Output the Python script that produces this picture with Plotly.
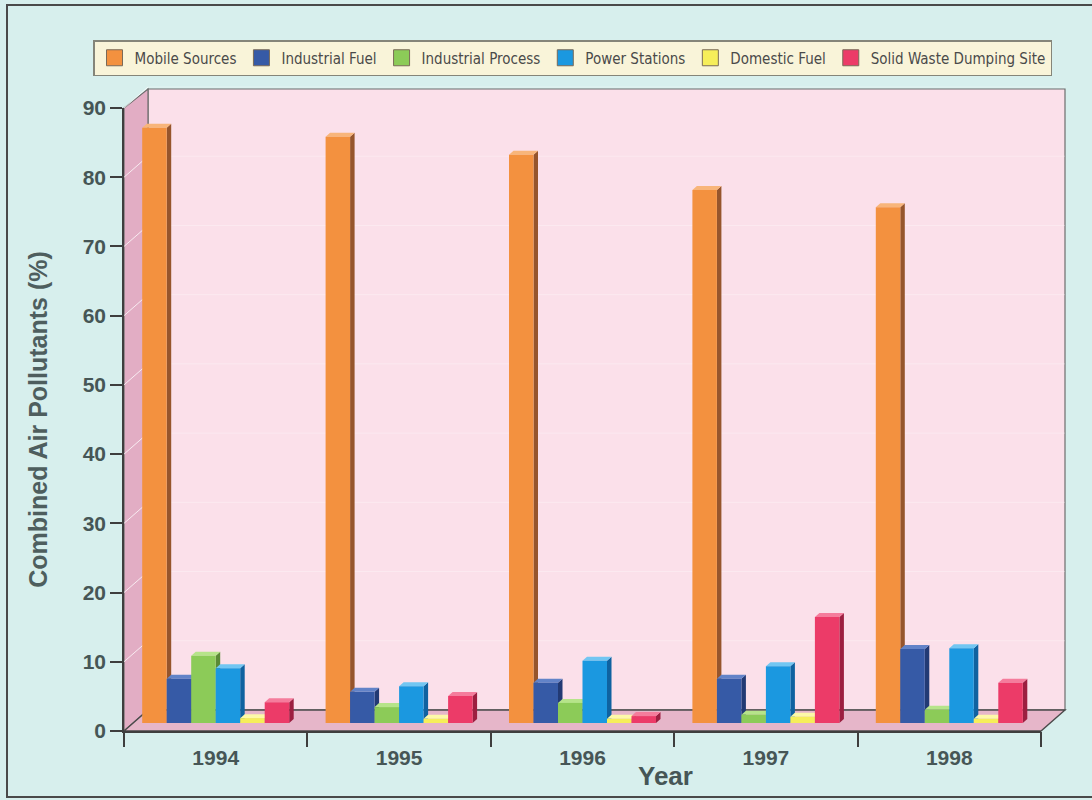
import plotly.graph_objects as go

# ---- data -------------------------------------------------------------
years = ["1994", "1995", "1996", "1997", "1998"]
sources = ["Mobile Sources", "Industrial Fuel", "Industrial Process",
           "Power Stations", "Domestic Fuel", "Solid Waste Dumping Site"]
mobile_sources = [86.0, 84.7, 82.1, 77.0, 74.5]
industrial_fuel = [6.4, 4.5, 5.8, 6.4, 10.7]
industrial_process = [9.7, 2.3, 2.9, 1.2, 1.9]
power_stations = [7.9, 5.3, 9.0, 8.2, 10.8]
domestic_fuel = [0.7, 0.6, 0.6, 0.9, 0.6]
solid_waste = [3.0, 3.9, 1.0, 15.3, 5.8]
y_ticks = [0, 10, 20, 30, 40, 50, 60, 70, 80, 90]

series = [mobile_sources, industrial_fuel, industrial_process,
          power_stations, domestic_fuel, solid_waste]
# front, top face, side face colours per series
front_cols = ["#f3913f", "#365aa6", "#8ccb58", "#1b98e0", "#f6ee5a", "#ec3b68"]
top_cols = ["#f8b57a", "#6283c8", "#b6e48a", "#72c6f2", "#fdf9a8", "#f57c9c"]
side_cols = ["#96552c", "#223a74", "#5a8a36", "#0f62a0", "#b2aa34", "#9c1f40"]

# ---- geometry (pixels of the 1092x800 page) ---------------------------
FW, FH = 1092, 800
L, R, T, B = 124, 1041, 108, 731          # front plotting plane
PW, PH = R - L, B - T
DX, DY = 24, 21                           # depth of back wall
BAR_LIFT = 8                              # bars stand slightly back on the floor
Y_MAX = 90.0
px_per_unit_y = PH / Y_MAX
px_per_unit_x = PW / 5.0

bar_w = 24.5 / px_per_unit_x
face_dx = 4.5 / px_per_unit_x
face_dy = 4.0 / px_per_unit_y
lift = BAR_LIFT / px_per_unit_y


def px(xp):
    return (xp - L) / PW


def py(yp):
    return (B - yp) / PH


fig = go.Figure()

# side and top faces of each bar (drawn beneath the fronts)
for j, vals in enumerate(series):
    sx, sy, tx, ty = [], [], [], []
    for i, v in enumerate(vals):
        xl = i + (j - 3) * bar_w
        xr = xl + bar_w
        sx += [xr, xr + face_dx, xr + face_dx, xr, xr, None]
        sy += [0, face_dy, v + face_dy, v, 0, None]
        tx += [xl, xl + face_dx, xr + face_dx, xr, xl, None]
        ty += [v, v + face_dy, v + face_dy, v, v, None]
    fig.add_trace(go.Scatter(x=sx, y=sy, mode="lines", fill="toself",
                             fillcolor=side_cols[j], line=dict(width=0),
                             xaxis="x", yaxis="y2", showlegend=False,
                             hoverinfo="skip"))
    fig.add_trace(go.Scatter(x=tx, y=ty, mode="lines", fill="toself",
                             fillcolor=top_cols[j], line=dict(width=0),
                             xaxis="x", yaxis="y2", showlegend=False,
                             hoverinfo="skip"))

# bar fronts
for j, vals in enumerate(series):
    fig.add_trace(go.Bar(
        x=[i + (j - 2.5) * bar_w for i in range(len(years))],
        y=vals, width=bar_w, name=sources[j],
        marker=dict(color=front_cols[j], line=dict(width=0)),
        xaxis="x", yaxis="y3", showlegend=False,
        hovertemplate=sources[j] + " %{customdata}: %{y}%<extra></extra>",
        customdata=years,
    ))

# legend entries
for j, name in enumerate(sources):
    fig.add_trace(go.Scatter(
        x=[None], y=[None], mode="markers", name=name,
        marker=dict(symbol="square", size=17, color=front_cols[j],
                    line=dict(color="#7a6a58", width=1)),
        xaxis="x", yaxis="y",
    ))

# ---- walls, floor and frame ------------------------------------------
shapes = []
wall_line = dict(color="#6d6d6d", width=1.2)
# outer frame
shapes.append(dict(type="rect", xref="paper", yref="paper", layer="below",
                   x0=px(7), x1=px(1096), y0=py(797), y1=py(5),
                   line=dict(color="#4a4a4a", width=2), fillcolor="rgba(0,0,0,0)"))
# back wall
shapes.append(dict(type="rect", xref="paper", yref="paper", layer="below",
                   x0=px(L + DX), x1=px(R + DX), y0=py(B - DY), y1=py(T - DY + 2),
                   line=wall_line, fillcolor="#fbe0ea"))
# left side wall
shapes.append(dict(type="path", xref="paper", yref="paper", layer="below",
                   path=(f"M {px(L)} {py(B)} L {px(L)} {py(T)} "
                         f"L {px(L + DX)} {py(T - DY + 2)} L {px(L + DX)} {py(B - DY)} Z"),
                   line=wall_line, fillcolor="#e2adc4"))
# floor
shapes.append(dict(type="path", xref="paper", yref="paper", layer="below",
                   path=(f"M {px(L)} {py(B)} L {px(R)} {py(B)} "
                         f"L {px(R + DX)} {py(B - DY)} L {px(L + DX)} {py(B - DY)} Z"),
                   line=dict(color="#4a4a4a", width=1.4), fillcolor="#e6b6c9"))
# faint grid on back wall and side wall
for v in y_ticks[1:]:
    yb = v / Y_MAX + DY / PH
    shapes.append(dict(type="line", xref="paper", yref="paper", layer="below",
                       x0=px(L + DX), x1=px(R + DX), y0=yb, y1=yb,
                       line=dict(color="rgba(255,255,255,0.3)", width=1)))
    shapes.append(dict(type="line", xref="paper", yref="paper", layer="below",
                       x0=px(L), x1=px(L + DX), y0=v / Y_MAX, y1=yb,
                       line=dict(color="rgba(255,255,255,0.75)", width=1)))

tick_font = dict(family="Liberation Sans, Arial, sans-serif", size=21,
                 color="#465656", weight="bold")

fig.update_layout(
    width=FW, height=FH,
    margin=dict(l=L, r=FW - R, t=T, b=FH - B),
    paper_bgcolor="#d7efed",
    plot_bgcolor="rgba(0,0,0,0)",
    barmode="overlay",
    shapes=shapes,
    showlegend=True,
    legend=dict(
        orientation="h", xanchor="left", yanchor="top",
        x=px(93), y=py(40),
        bgcolor="#f9f4d9", bordercolor="#858579", borderwidth=1.5,
        font=dict(family="Liberation Sans Narrow, DejaVu Sans Condensed, sans-serif",
                  size=15, color="#4a4a4a"),
        itemwidth=30, tracegroupgap=0,
    ),
    xaxis=dict(
        range=[-0.5, 4.5], tickvals=list(range(len(years))), ticktext=years,
        ticks="", showgrid=False, zeroline=False,
        showline=True, linecolor="#3e3e3e", linewidth=1.5,
        tickfont=tick_font, ticklabelstandoff=7,
    ),
    xaxis2=dict(
        overlaying="x", range=[-0.5, 4.5], anchor="y", side="bottom",
        tickvals=[k - 0.5 for k in range(len(years) + 1)],
        ticks="outside", ticklen=15, tickwidth=1.5, tickcolor="#3e3e3e",
        showticklabels=False, showgrid=False, zeroline=False, showline=False,
    ),
    yaxis=dict(
        range=[0, Y_MAX], tickvals=y_ticks, ticks="outside", ticklen=12,
        tickwidth=1.5, tickcolor="#3e3e3e",
        showline=True, linecolor="#3e3e3e", linewidth=1.5,
        showgrid=False, zeroline=False, tickfont=tick_font,
        title=dict(text="Combined Air Pollutants (%)", standoff=28,
                   font=dict(family="Liberation Sans, Arial, sans-serif",
                             size=25, color="#4e5e5e", weight="bold")),
    ),
    yaxis2=dict(overlaying="y", range=[-lift, Y_MAX - lift], visible=False),
    yaxis3=dict(overlaying="y", range=[-lift, Y_MAX - lift], visible=False),
    annotations=[dict(
        text="Year", xref="paper", yref="paper", x=px(665), y=py(776),
        showarrow=False, xanchor="center", yanchor="middle",
        font=dict(family="Liberation Sans, Arial, sans-serif", size=26,
                  color="#465656", weight="bold"),
    )],
)

# x tick axis needs a dummy trace to be drawn
fig.add_trace(go.Scatter(x=[None], y=[None], xaxis="x2", yaxis="y",
                         showlegend=False, hoverinfo="skip"))

fig.write_html("out.html")
